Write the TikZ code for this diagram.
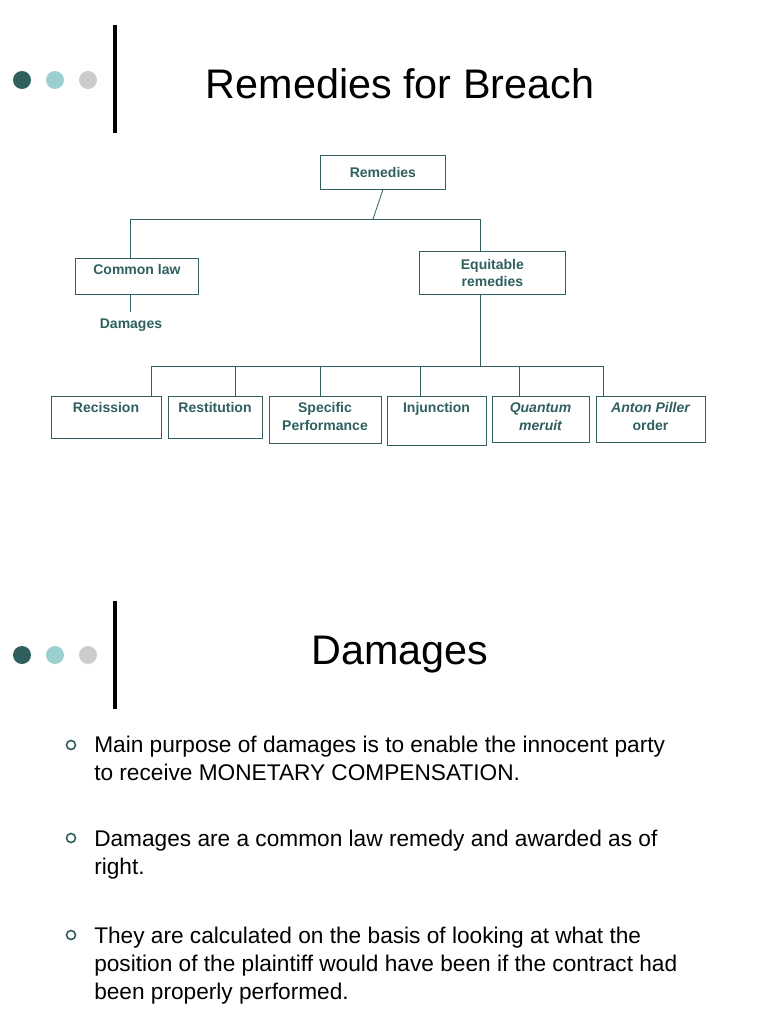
\documentclass[tikz,border=0pt]{standalone}
\usepackage{fontspec}
\setmainfont{Liberation Sans}
\begin{document}
\begin{tikzpicture}[x=0.75pt,y=-0.75pt]
\definecolor{teal1}{HTML}{2F5F5F}
\definecolor{teal2}{HTML}{9CCFCF}
\definecolor{grey1}{HTML}{CCCCCC}
\tikzset{
 bx/.style={draw=teal1,line width=0.6pt,anchor=north west,inner sep=0pt,font=\fontsize{10.5}{12.5}\selectfont\bfseries,text=teal1,align=center},
 ln/.style={draw=teal1,line width=0.6pt},
 bl/.style={anchor=base west,inner sep=0pt,font=\fontsize{17}{20}\selectfont},
 ttl/.style={font=\fontsize{31}{36}\selectfont,inner sep=0pt}
}
\useasboundingbox (0,0) rectangle (768,1024);
\fill[white] (0,0) rectangle (768,1024);
% header dots
\foreach \yy in {80,655}{
 \fill[teal1] (22,\yy) circle (9);
 \fill[teal2] (55,\yy) circle (9);
 \fill[grey1] (88,\yy) circle (9);
}
\draw[line width=3.2pt] (115,25) -- (115,133);
\draw[line width=3.2pt] (115,601) -- (115,709);
\node[ttl] (t1) at (400,84) {Remedies for Breach};
\node[ttl] (t2) at (400,655) {Damages};
% tree
\node[bx,minimum width=125*0.75pt,minimum height=34*0.75pt] (rem) at (320,155) {Remedies};
\node[bx,minimum width=123*0.75pt,minimum height=36*0.75pt,text depth=10pt] (cl) at (75,258) {Common law};
\node[bx,minimum width=146*0.75pt,minimum height=43*0.75pt] (eq) at (419,251) {Equitable\\remedies};
\node[inner sep=0pt,font=\fontsize{10.5}{12.5}\selectfont\bfseries,text=teal1] (dam) at (131,325) {Damages};
\coordinate (j1) at (373,219);
\draw[ln] (rem.south) -- (j1);
\draw[ln] (130,219) -- (480,219);
\draw[ln] (130,219) -- (130,258);
\draw[ln] (480,219) -- (480,251);
\draw[ln] (130,294) -- (130,312);
\draw[ln] (480,294) -- (480,366);
\draw[ln] (151,366) -- (603,366);
\foreach \n/\x/\w/\h/\t/\cx in {
 r1/51/110/42/{Recission}/151,
 r2/168/94/42/{Restitution}/235,
 r3/269/112/47/{Specific\\Performance}/320,
 r4/387/99/49/{Injunction}/420,
 r5/492/97/46/{\itshape Quantum\\\itshape meruit}/519,
 r6/596/109/46/{\itshape Anton Piller\\order}/603}{
 \draw[ln] (\x,396) rectangle ++(\w,\h);
 \node[inner sep=0pt,anchor=north,align=center,font=\fontsize{10.5}{13.5}\selectfont\bfseries,text=teal1] (\n) at (\x+\w/2,402) {\t};
 \draw[ln] (\cx,366) -- (\cx,396);
}
% bullets
\foreach \yy in {745,838,935}{\draw[teal1,line width=1.2pt] (71,\yy) circle (4.5);}
\node[bl] (b1) at (94,752) {Main purpose of damages is to enable the innocent party};
\node[bl] (b1b) at (94,780) {to receive MONETARY COMPENSATION.};
\node[bl] (b2) at (94,846) {Damages are a common law remedy and awarded as of};
\node[bl] (b2b) at (94,874) {right.};
\node[bl] (b3) at (94,943) {They are calculated on the basis of looking at what the};
\node[bl] (b3b) at (94,971) {position of the plaintiff would have been if the contract had};
\node[bl] (b3c) at (94,999) {been properly performed.};
\end{tikzpicture}
\end{document}
